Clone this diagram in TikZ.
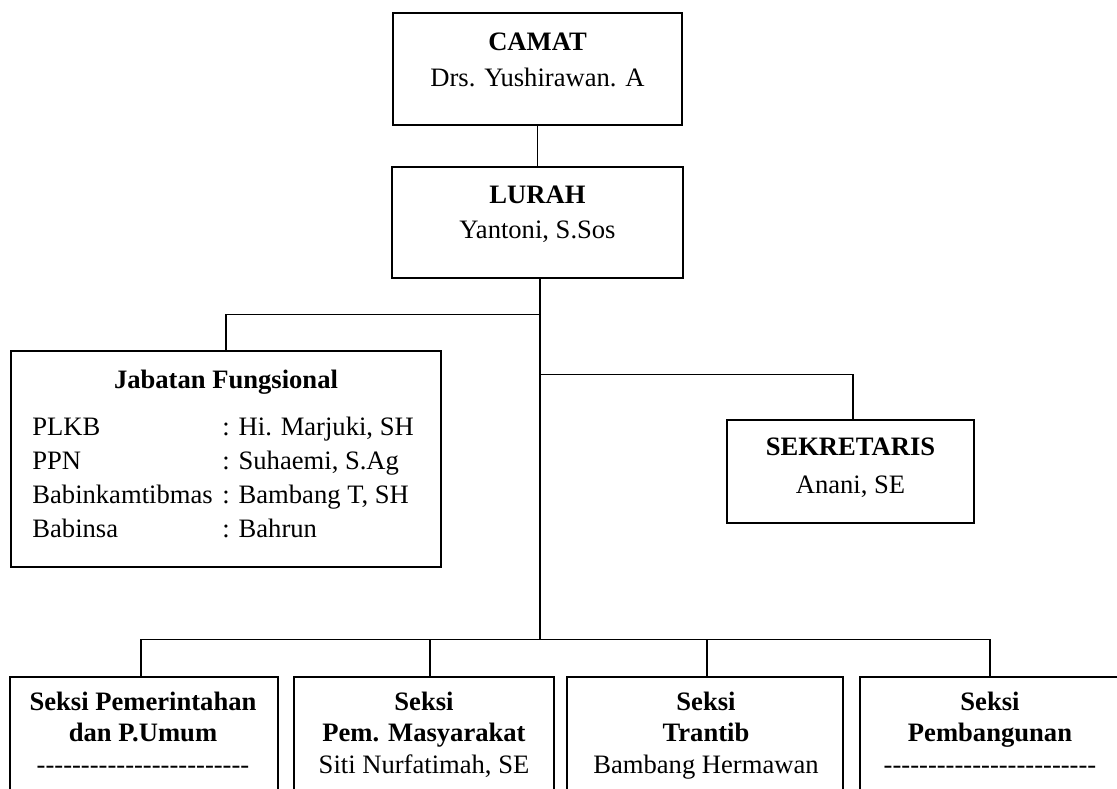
\documentclass[tikz,border=0pt]{standalone}
\usepackage{fontspec}
\setmainfont{Liberation Serif}
\usetikzlibrary{positioning}
\newcommand\hy{-\kern0pt}
\newcommand\nobody{\hy\hy\hy\hy\hy\hy\hy\hy\hy\hy\hy\hy\hy\hy\hy\hy\hy\hy\hy\hy\hy\hy\hy\hy}
\tikzset{box/.style = {rectangle, draw, line width=0.7pt, inner sep=0pt},
         hd/.style  = {inner sep=0pt, text height=8.8pt, text depth=0pt, font=\fontsize{13.3}{16}\selectfont\bfseries},
         nm/.style  = {inner sep=0pt, text height=8.8pt, text depth=0pt, font=\fontsize{13.3}{16}\selectfont},
         ln/.style  = {line width=0.7pt}}

\begin{document}
\begin{tikzpicture}[x=0.5pt, y=-0.5pt]
    \useasboundingbox (0,0) rectangle (1117,788);
    \clip (0,0) rectangle (1117,788);
    \node[box, minimum width=144.5pt, minimum height=56pt] (camat) at (537.5,69) {};
    \node[box, minimum width=145.5pt, minimum height=55.5pt] (lurah) at (537.5,222.5) {};
    \node[box, minimum width=215pt, minimum height=108pt] (jab) at (226,459) {};
    \node[box, minimum width=123.5pt, minimum height=51.5pt] (sek) at (850.5,471.5) {};
    \node[box, minimum width=134pt, minimum height=66pt] (s1) at (144,743) {};
    \node[box, minimum width=130pt, minimum height=66pt] (s2) at (424,743) {};
    \node[box, minimum width=138pt, minimum height=66pt] (s3) at (705,743) {};
    \node[box, minimum width=140pt, minimum height=66pt] (s4) at (1000,743) {};
    \coordinate (trunk) at ([xshift=1.25pt]lurah.south);

    \node[hd] (camat-a) at (537.5,42) {CAMAT};
    \node[nm] (camat-b) at (537.5,78) {Drs. Yushirawan. A};
    \node[hd] (lurah-a) at (537.5,195) {LURAH};
    \node[nm] (lurah-b) at (537.5,230) {Yantoni, S.Sos};
    \node[hd] (jab-a) at (226,380) {Jabatan Fungsional};
    \node[nm, anchor=west] (jab-k1) at (32,427) {PLKB};           \node[nm, anchor=west] (jab-v1) at (222,427) {: Hi. Marjuki, SH};
    \node[nm, anchor=west] (jab-k2) at (32,461) {PPN};            \node[nm, anchor=west] (jab-v2) at (222,461) {: Suhaemi, S.Ag};
    \node[nm, anchor=west] (jab-k3) at (32,495) {Babinkamtibmas}; \node[nm, anchor=west] (jab-v3) at (222,495) {: Bambang T, SH};
    \node[nm, anchor=west] (jab-k4) at (32,529) {Babinsa};        \node[nm, anchor=west] (jab-v4) at (222,529) {: Bahrun};
    \node[hd] (sek-a) at (850.5,447) {SEKRETARIS};
    \node[nm] (sek-b) at (850.5,485) {Anani, SE};
    \node[hd] (s1-a) at (143,702) {Seksi Pemerintahan};
    \node[hd] (s1-b) at (143,733) {dan P.Umum};
    \node[nm] (s1-c) at (143,765) {\nobody};
    \node[hd] (s2-a) at (424,702) {Seksi};
    \node[hd] (s2-b) at (424,733) {Pem. Masyarakat};
    \node[nm] (s2-c) at (424,765) {Siti Nurfatimah, SE};
    \node[hd] (s3-a) at (706,702) {Seksi};
    \node[hd] (s3-b) at (706,733) {Trantib};
    \node[nm] (s3-c) at (706,765) {Bambang Hermawan};
    \node[hd] (s4-a) at (990,702) {Seksi};
    \node[hd] (s4-b) at (990,733) {Pembangunan};
    \node[nm] (s4-c) at (990,765) {\nobody};

    \draw[ln] (camat) -- (lurah);
    \draw[ln] (jab.north) -- ++(0,-36) -| (trunk);
    \draw[ln] ([xshift=1.25pt]sek.north) -- ++(0,-45) -| (trunk);
    \draw[ln] ([xshift=-1.5pt]s1.north) -- ++(0,-37) -| (trunk);
    \draw[ln] ([xshift=3pt]s2.north) -- ++(0,-37) -| (trunk);
    \draw[ln] ([xshift=1pt]s3.north) -- ++(0,-37) -| (trunk);
    \draw[ln] ([xshift=-5pt]s4.north) -- ++(0,-37) -| (trunk);
\end{tikzpicture}
\end{document}
